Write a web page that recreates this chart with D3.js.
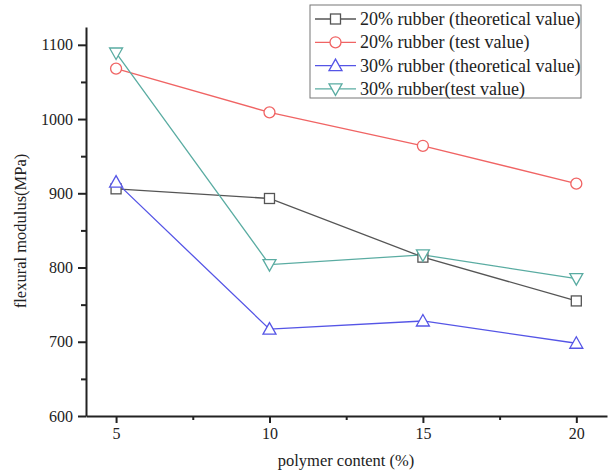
<!DOCTYPE html>
<html>
<head>
<meta charset="utf-8">
<script src="https://cdn.jsdelivr.net/npm/d3@7"></script>
<style>
  body { margin: 0; background: #fff; }
  svg text { font-family: "Liberation Serif", "Times New Roman", serif; fill: #222; }
</style>
</head>
<body>
<svg id="chart" width="609" height="472"></svg>
<script>
// polymer content (%) on x, flexural modulus (MPa) on y
const polymer = [5, 10, 15, 20];
const rubber20Theory = [906, 893, 814, 755];
const rubber20Test = [1068, 1009, 964, 913];
const rubber30Theory = [915, 717, 728, 698];
const rubber30Test = [1089, 804, 817, 785];
const seriesNames = [
  '20% rubber (theoretical value)',
  '20% rubber (test value)',
  '30% rubber (theoretical value)',
  '30% rubber(test value)'
];
const xTicks = [5, 10, 15, 20];
const yTicks = [600, 700, 800, 900, 1000, 1100];

const svg = d3.select('#chart');
const plotL = 86, plotR = 607, plotT = 27, plotB = 416;
const serif = '"Liberation Serif", "Times New Roman", serif';

const x = d3.scaleLinear().domain([4.02, 21]).range([plotL, plotR]);
const y = d3.scaleLinear().domain([600, 1124]).range([plotB, plotT]);

const series = [
  { name: seriesNames[0], vals: rubber20Theory, color: '#555555', marker: 'square' },
  { name: seriesNames[1], vals: rubber20Test, color: '#f06464', marker: 'circle' },
  { name: seriesNames[2], vals: rubber30Theory, color: '#5555e6', marker: 'up' },
  { name: seriesNames[3], vals: rubber30Test, color: '#5aaca2', marker: 'down' }
];

function drawMarker(g, type, cx, cy, color) {
  if (type === 'square') {
    g.append('rect').attr('x', cx - 5).attr('y', cy - 5).attr('width', 10).attr('height', 10)
      .attr('fill', '#fff').attr('stroke', color).attr('stroke-width', 1.3);
  } else if (type === 'circle') {
    g.append('circle').attr('cx', cx).attr('cy', cy).attr('r', 5.5)
      .attr('fill', '#fff').attr('stroke', color).attr('stroke-width', 1.3);
  } else {
    const s = type === 'up' ? -1 : 1;
    const pts = [[cx, cy + s * 6.5], [cx - 6.5, cy - s * 5], [cx + 6.5, cy - s * 5]];
    g.append('path').attr('d', 'M' + pts.join('L') + 'Z')
      .attr('fill', '#fff').attr('stroke', color).attr('stroke-width', 1.3);
  }
}

// Lines + markers
const line = d3.line().x((d, i) => x(polymer[i])).y(d => y(d));
series.forEach(s => {
  svg.append('path').datum(s.vals).attr('d', line)
    .attr('fill', 'none').attr('stroke', s.color).attr('stroke-width', 1.3);
});
series.forEach(s => {
  const g = svg.append('g');
  s.vals.forEach((v, i) => drawMarker(g, s.marker, x(polymer[i]), y(v), s.color));
});

// Axes
const axes = svg.append('g').attr('class', 'axes');
axes.append('g').attr('transform', `translate(0,${plotB})`)
  .call(d3.axisBottom(x).tickValues(xTicks).tickFormat(d3.format('d'))
    .tickSize(7).tickSizeOuter(0).tickPadding(5));
axes.append('g').attr('transform', `translate(0,${plotB})`)
  .call(d3.axisBottom(x).tickValues([7.5, 12.5, 17.5]).tickSize(4).tickFormat('').tickSizeOuter(0))
  .select('.domain').remove();
axes.append('g').attr('transform', `translate(${plotL},0)`)
  .call(d3.axisLeft(y).tickValues(yTicks).tickFormat(d3.format('d'))
    .tickSize(8).tickSizeOuter(0).tickPadding(5));
axes.append('g').attr('transform', `translate(${plotL},0)`)
  .call(d3.axisLeft(y).tickValues([650, 750, 850, 950, 1050]).tickSize(5).tickFormat('').tickSizeOuter(0))
  .select('.domain').remove();

axes.selectAll('g').attr('font-family', serif).attr('font-size', 16);
axes.selectAll('.domain').attr('stroke', '#222').attr('stroke-width', 2);
axes.selectAll('.tick line').attr('stroke', '#222').attr('stroke-width', 2);
axes.selectAll('.tick text').attr('fill', '#222');

// Axis titles
svg.append('text').attr('x', 346).attr('y', 466).attr('text-anchor', 'middle')
  .attr('font-size', 16.5).text('polymer content (%)');
svg.append('text').attr('transform', 'translate(26,231) rotate(-90)').attr('text-anchor', 'middle')
  .attr('font-size', 16.5).text('flexural modulus(MPa)');

// Legend
const lg = svg.append('g').attr('transform', 'translate(310,5)');
lg.append('rect').attr('width', 271).attr('height', 93)
  .attr('fill', '#fff').attr('stroke', '#777').attr('stroke-width', 1);
series.forEach((s, i) => {
  const cy = 14 + i * 23.3;
  lg.append('line').attr('x1', 5).attr('x2', 46).attr('y1', cy).attr('y2', cy)
    .attr('stroke', s.color).attr('stroke-width', 1.3);
  drawMarker(lg, s.marker, 25.5, cy, s.color);
  lg.append('text').attr('x', 50).attr('y', cy + 6).attr('font-size', 18).text(s.name);
});
</script>
</body>
</html>
